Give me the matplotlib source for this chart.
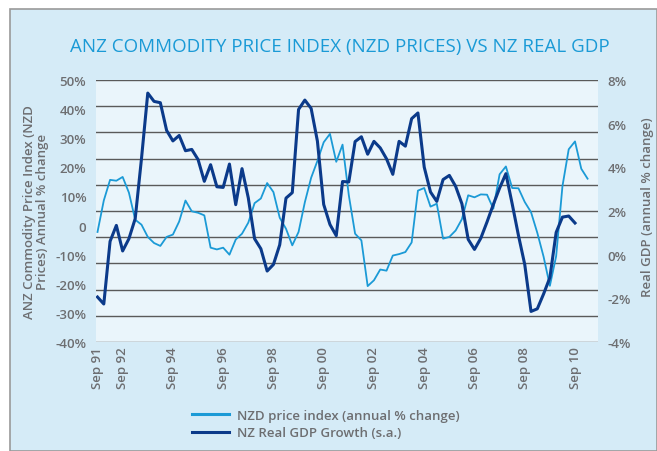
import matplotlib
matplotlib.use("Agg")
import matplotlib.pyplot as plt
import numpy as np
from matplotlib.patches import Rectangle
from matplotlib.lines import Line2D

# Quarterly data starting Sep 1991
nzd_price = [-2.2, 8.6, 15.7, 15.4, 16.7, 11.3, 2.0, 0.3, -3.9, -6.0,
             -7.0, -3.9, -3.1, 1.4, 8.6, 4.9, 4.4, 3.5, -7.6, -8.2,
             -7.6, -10.0, -4.8, -2.8, 1.0, 7.7, 9.3, 14.6, 11.5, 2.7,
             -1.1, -6.8, -2.2, 8.0, 16.4, 22.2, 28.6, 31.5, 21.9, 27.8,
             10.4, -2.8, -5.1, -20.8, -18.8, -15.1, -15.5, -10.3, -9.8, -9.1,
             -5.8, 12.0, 12.9, 6.5, 7.5, -4.5, -3.9, -1.7, 2.2, 10.4,
             9.7, 10.7, 10.6, 5.8, 17.6, 20.3, 12.9, 12.8, 8.1, 4.6,
             -2.5, -10.7, -20.7, -10.5, 13.5, 26.2, 28.9, 19.5, 16.1]
gdp_growth = [-1.94, -2.26, 0.61, 1.34, 0.17, 0.73, 1.65, 4.4, 7.4, 7.02,
              6.96, 5.69, 5.21, 5.46, 4.76, 4.82, 4.36, 3.36, 4.12, 3.11,
              3.08, 4.15, 2.29, 3.94, 2.6, 0.73, 0.27, -0.75, -0.45, 0.45,
              2.59, 2.84, 6.65, 7.08, 6.7, 5.2, 2.3, 1.38, 0.87, 3.35,
              3.33, 5.18, 5.4, 4.6, 5.19, 4.89, 4.39, 3.68, 5.19, 4.97,
              6.23, 6.49, 4.01, 2.87, 2.44, 3.44, 3.63, 3.13, 2.33, 0.7,
              0.24, 0.75, 1.5, 2.3, 3.05, 3.71, 2.33, 0.88, -0.45, -2.6,
              -2.48, -1.8, -1.05, 1.02, 1.72, 1.77, 1.45]
xtick_pos = [0, 4, 12, 20, 28, 36, 44, 52, 60, 68, 76]
xtick_labels = ["Sep 91", "Sep 92", "Sep 94", "Sep 96", "Sep 98", "Sep 00",
                "Sep 02", "Sep 04", "Sep 06", "Sep 08", "Sep 10"]
left_ticks = [50, 40, 30, 20, 10, 0, -10, -20, -30, -40]
left_labels = ["50%", "40%", "30%", "20%", "10%", "0", "-10%", "-20%", "-30%", "-40%"]
right_ticks = [8, 6, 4, 2, 0, -2, -4]
right_labels = ["8%", "6%", "4%", "2%", "0%", "-2%", "-4%"]

LIGHT = "#1b9ad6"
DARK = "#0b3a8a"
GRAY = "#6d6e71"
OUTER = "#d5ebf7"
INNER = "#eaf5fb"

W, H = 657, 452
fig = plt.figure(figsize=(W / 100, H / 100), dpi=100)
fig.patch.set_facecolor("white")
fig.patches.append(Rectangle((10 / W, 0), 1 - 10 / W, 1 - 10 / H, transform=fig.transFigure,
                             facecolor=OUTER, edgecolor="#9a9a9a", lw=1.2, zorder=-10))

fs = "Open Sans"
ax = fig.add_axes([96 / W, 109 / H, 502 / W, 262 / H])
ax.set_facecolor(INNER)
ax2 = ax.twinx()

x1 = np.arange(len(nzd_price))
x2 = np.arange(len(gdp_growth))
ax.plot(x1, nzd_price, color=LIGHT, lw=1.3, zorder=3)
ax2.plot(x2, gdp_growth, color=DARK, lw=2.2, zorder=4)

ax.set_xlim(-0.24, 79.66)
ax.set_ylim(-40, 50)
ax2.set_ylim(-4, 8)

for yv in np.linspace(-40, 50, 11):
    ax.axhline(yv, color="#5a5a5a", lw=1.0, zorder=1)

for s in ["top", "right", "left", "bottom"]:
    ax.spines[s].set_visible(False)
    ax2.spines[s].set_visible(False)

ax.set_yticks(left_ticks)
ax.set_yticklabels(left_labels, fontfamily=fs, fontweight="semibold", fontsize=9.5, color=GRAY)
ax.tick_params(axis="y", length=0, pad=7)
ax2.set_yticks(right_ticks)
ax2.set_yticklabels(right_labels, fontfamily=fs, fontweight="semibold", fontsize=9.5, color=GRAY)
ax2.tick_params(axis="y", length=0, pad=7)

ax.set_xticks(xtick_pos)
ax.set_xticklabels(xtick_labels, rotation=90, fontfamily=fs, fontweight="semibold",
                   fontsize=9.5, color=GRAY)
ax.tick_params(axis="x", length=0, pad=3)

fig.text(340 / W, 1 - 47 / H, "ANZ COMMODITY PRICE INDEX (NZD PRICES) VS NZ REAL GDP",
         ha="center", va="center", color="#1a9ad6", fontsize=13.5,
         fontfamily=["Liberation Sans Narrow", "Open Sans"])

fig.text(36 / W, 1 - 212 / H, "ANZ Commodity Price Index (NZD\nPrices) Annual % change",
         rotation=90, ha="center", va="center", color=GRAY, fontsize=9.5,
         fontfamily=fs, fontweight="semibold", linespacing=0.95, multialignment="center")
fig.text(647 / W, 1 - 207 / H, "Real GDP (annual % change)", rotation=90,
         ha="center", va="center", color=GRAY, fontsize=9.5, fontfamily=fs, fontweight="semibold")

handles = [Line2D([], [], color=LIGHT, lw=2.2), Line2D([], [], color=DARK, lw=2.2)]
fig.legend(handles, ["NZD price index (annual % change)", "NZ Real GDP Growth (s.a.)"],
           loc="center left", bbox_to_anchor=(180 / W, 1 - 425 / H), frameon=False,
           prop={"family": fs, "weight": "semibold", "size": 9.5}, labelcolor=GRAY,
           handlelength=2.8, handletextpad=0.6, labelspacing=0.35)

fig.savefig("out.png", dpi=100, facecolor=fig.get_facecolor())
